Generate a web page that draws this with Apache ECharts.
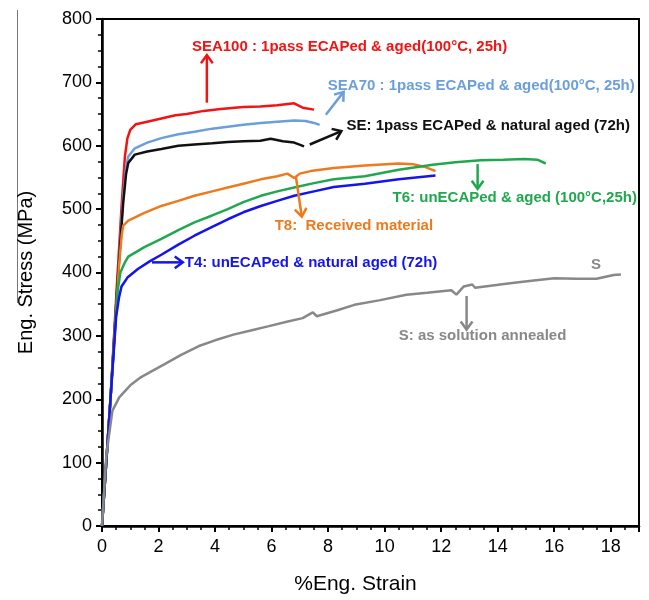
<!DOCTYPE html>
<html>
<head>
<meta charset="utf-8">
<script src="https://cdn.jsdelivr.net/npm/echarts@6/dist/echarts.min.js"></script>
<style>
  html, body { margin: 0; padding: 0; background: #fff; }
  #chart { width: 649px; height: 600px; }
</style>
</head>
<body>
<div id="chart"></div>
<script>
// Curves: [strain %, stress MPa]
const sea100 = [[0,0],[0.3,200],[0.52,375],[0.7,510],[0.81,583],[0.9,612],[1.0,625],[1.2,634],[1.6,638],[2.1,643],[2.6,648],[3.0,650],[3.6,655],[4.2,658],[5.0,661],[5.6,662],[6.2,664],[6.8,667],[7.1,660],[7.5,657]]
const sea70 = [[0,0],[0.3,200],[0.55,385],[0.75,520],[0.85,565],[0.93,583],[1.16,596],[1.6,605],[2.1,612],[2.7,618],[3.27,622],[3.9,627],[4.45,630],[5.0,633],[5.62,636],[6.2,638],[6.8,640],[7.2,639],[7.5,636],[7.7,633]]
const se = [[0,0],[0.3,200],[0.55,385],[0.75,510],[0.85,555],[0.93,573],[1.16,586],[1.6,591],[2.1,595],[2.7,600],[3.27,602],[3.9,604],[4.45,606],[5.0,607],[5.6,608],[5.97,611],[6.4,607],[6.8,605],[7.15,599]]
const t8 = [[0,0],[0.3,200],[0.6,410],[0.7,460],[0.75,474],[0.93,482],[1.5,494],[2.1,505],[2.7,513],[3.27,521],[3.9,528],[4.45,534],[5.0,540],[5.62,547],[6.2,552],[6.56,556],[6.8,549],[7.0,556],[7.38,560],[8.2,565],[9.3,569],[10.5,572],[11.0,571],[11.4,567],[11.8,560]]
const t6 = [[0,0],[0.3,200],[0.55,370],[0.65,400],[0.8,415],[0.93,425],[1.5,440],[2.1,453],[2.7,467],[3.27,479],[3.9,490],[4.45,500],[5.0,511],[5.62,521],[6.2,528],[6.8,534],[7.5,541],[8.2,547],[9.3,552],[10.5,562],[11.7,570],[12.5,574],[13.4,577],[14.2,578],[14.95,579],[15.4,578],[15.7,572]]
const t4 = [[0,0],[0.3,200],[0.5,330],[0.6,360],[0.69,378],[0.9,392],[1.28,406],[1.7,418],[2.1,428],[2.7,444],[3.27,458],[3.9,472],[4.45,484],[5.0,495],[5.62,505],[6.2,513],[6.8,521],[7.5,528],[8.2,535],[9.3,540],[10.5,547],[11.8,553]]
const sol = [[0,0],[0.15,110],[0.3,160],[0.37,182],[0.61,203],[1.0,222],[1.35,234],[2.2,255],[2.8,270],[3.43,284],[4.0,293],[4.65,302],[5.3,309],[5.87,315],[6.5,322],[7.1,328],[7.3,333],[7.46,337],[7.6,331],[8.3,340],[8.93,349],[9.8,356],[10.77,365],[11.5,368],[12.36,372],[12.54,365],[12.8,378],[13.1,381],[13.2,376],[14.44,383],[15.2,387],[16.0,391],[16.8,390],[17.5,390],[18.1,396],[18.36,397]]

const colors = ['#f01414', '#6a9fdc', '#111111', '#ee7a1e', '#1fa84e', '#1414ee', '#888888']

// annotation labels: text, anchor (data coords, left / middle)
const labelTexts = [
  'SEA100 : 1pass ECAPed & aged(100\u00b0C, 25h)',
  'SEA70 : 1pass ECAPed & aged(100\u00b0C, 25h)',
  'SE: 1pass ECAPed & natural aged (72h)',
  'T8:  Received material',
  'T6: unECAPed & aged (100\u00b0C,25h)',
  'T4: unECAPed & natural aged (72h)',
  'S: as solution annealed',
  'S'
]
const labelAt = [[3.18,756],[7.99,695],[8.65,632],[6.11,473],[10.28,518],[2.93,416],[10.5,300],[17.3,412]]
const labelColor = [0, 1, 2, 3, 4, 5, 6, 6]
// arrows: from -> to (data coords)
const arrowFrom = [[3.71,668],[7.92,649],[7.35,602],[6.86,551],[13.29,571],[1.77,416],[12.9,363]]
const arrowTo = [[3.71,743],[8.55,685],[8.47,623],[7.07,488],[13.29,532],[2.86,416],[12.9,310]]

const chart = echarts.init(document.getElementById('chart'))
const font = '"Liberation Sans", Arial, sans-serif'

const makeLine = (data, i) => ({
  type: 'line',
  data: data,
  showSymbol: false,
  symbol: 'none',
  lineStyle: { color: colors[i], width: 2.5 },
  z: 3
})

chart.setOption({
  animation: false,
  grid: { left: 102, right: 10, top: 19, bottom: 70, show: true, borderColor: '#000', borderWidth: 2 },
  xAxis: {
    type: 'value',
    min: 0, max: 19, interval: 2,
    name: '%Eng. Strain',
    nameLocation: 'middle',
    nameGap: 48,
    nameTextStyle: { fontSize: 21, color: '#000', fontFamily: font, padding: [0, 30, 0, 0] },
    axisLine: { lineStyle: { color: '#000', width: 2.5 } },
    axisTick: { length: 6, lineStyle: { color: '#000', width: 2 } },
    minorTick: { show: true, splitNumber: 4, length: 4, lineStyle: { color: '#000', width: 1.5 } },
    axisLabel: {
      fontSize: 18, color: '#000', fontFamily: font, margin: 12,
      formatter: v => (v % 2 === 0 ? String(v) : '')
    },
    splitLine: { show: false }
  },
  yAxis: {
    type: 'value',
    min: 0, max: 800, interval: 100,
    name: 'Eng. Stress (MPa)',
    nameLocation: 'middle',
    nameGap: 66,
    nameTextStyle: { fontSize: 20, color: '#000', fontFamily: font },
    axisLine: { lineStyle: { color: '#000', width: 2.5 } },
    axisTick: { length: 6, lineStyle: { color: '#000', width: 2 } },
    minorTick: { show: true, splitNumber: 4, length: 4, lineStyle: { color: '#000', width: 1.5 } },
    axisLabel: { fontSize: 18, color: '#000', fontFamily: font, margin: 10 },
    splitLine: { show: false }
  },
  series: [sea100, sea70, se, t8, t6, t4, sol].map(makeLine)
})

// annotations placed through the axes
const toPx = p => chart.convertToPixel({ gridIndex: 0 }, p)
const graphics = []

labelTexts.forEach((t, i) => {
  const p = toPx(labelAt[i])
  graphics.push({
    type: 'text',
    x: p[0], y: p[1],
    z: 10,
    style: {
      text: t,
      fill: colors[labelColor[i]],
      font: 'bold 15px ' + font,
      align: 'left',
      verticalAlign: 'middle'
    }
  })
})

arrowFrom.forEach((a, i) => {
  const p0 = toPx(a)
  const p1 = toPx(arrowTo[i])
  const ang = Math.atan2(p1[1] - p0[1], p1[0] - p0[0])
  const h = 10
  const spread = Math.PI / 5
  const l = [p1[0] - h * Math.cos(ang - spread), p1[1] - h * Math.sin(ang - spread)]
  const r = [p1[0] - h * Math.cos(ang + spread), p1[1] - h * Math.sin(ang + spread)]
  const style = { stroke: colors[i], lineWidth: 2.5, fill: null }
  graphics.push({ type: 'polyline', z: 10, shape: { points: [p0, p1] }, style: style })
  graphics.push({ type: 'polyline', z: 10, shape: { points: [l, p1, r] }, style: style })
})

// thin crop edge visible in the scanned figure
graphics.push({ type: 'line', shape: { x1: 17.5, y1: 10, x2: 17.5, y2: 303 }, style: { stroke: '#777', lineWidth: 1 } })

chart.setOption({ graphic: graphics })
</script>
</body>
</html>
